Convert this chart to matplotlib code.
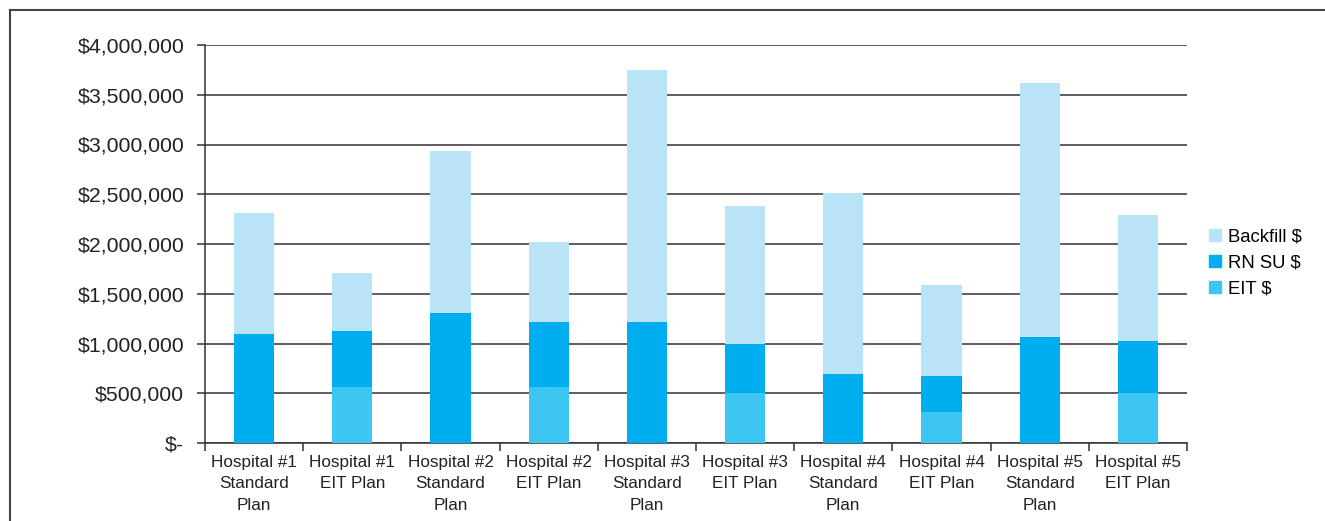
import numpy as np
from matplotlib import pyplot as plt
from matplotlib.lines import Line2D

# categories and stacked values (dollars)
categories = ['Hospital #1\nStandard\nPlan', 'Hospital #1\nEIT Plan',
              'Hospital #2\nStandard\nPlan', 'Hospital #2\nEIT Plan',
              'Hospital #3\nStandard\nPlan', 'Hospital #3\nEIT Plan',
              'Hospital #4\nStandard\nPlan', 'Hospital #4\nEIT Plan',
              'Hospital #5\nStandard\nPlan', 'Hospital #5\nEIT Plan']
eit = [0, 565000, 0, 565000, 0, 500000, 0, 310000, 0, 500000]
rn_su = [1095000, 560000, 1307000, 650000, 1216000, 495000, 693000, 363000, 1065000, 525000]
backfill = [1215000, 585000, 1628000, 805000, 2534000, 1385000, 1817000, 917000, 2555000, 1265000]

yticks = [0, 500000, 1000000, 1500000, 2000000, 2500000, 3000000, 3500000, 4000000]

c_backfill = '#b9e4f8'
c_rn = '#00adef'
c_eit = '#3ec6f3'

plt.rcParams['font.family'] = ['Liberation Sans', 'DejaVu Sans']

fig = plt.figure(figsize=(13.25, 5.21), dpi=100)
ax = fig.add_axes([205/1325, 1 - 443/521, (1187 - 205)/1325, (443 - 45)/521])

x = np.arange(len(categories))
eit = np.array(eit)
rn_su = np.array(rn_su)
backfill = np.array(backfill)
w = 0.41
ax.bar(x, eit, w, color=c_eit, zorder=3)
ax.bar(x, rn_su, w, bottom=eit, color=c_rn, zorder=3)
ax.bar(x, backfill, w, bottom=eit + rn_su, color=c_backfill, zorder=3)

ax.set_xlim(-0.5, len(categories) - 0.5)
ax.set_ylim(0, 4000000)
ax.set_yticks(yticks)
ax.set_yticklabels(['$-' if v == 0 else '${:,}'.format(v) for v in yticks], fontsize=15.3, color='#222222')
ax.yaxis.grid(True, color='#333333', linewidth=1.1, zorder=0)
ax.tick_params(axis='y', length=6, width=1.1, color='#333333', pad=9)

ax.set_xticks(x)
ax.set_xticklabels(categories, fontsize=12.3, color='#222222', linespacing=1.5)
ax.tick_params(axis='x', which='major', length=0, pad=9)
ax.set_xticks(np.arange(-0.5, len(categories), 1), minor=True)
ax.tick_params(axis='x', which='minor', length=6, width=1.1, color='#333333')

for s in ['top', 'right']:
    ax.spines[s].set_visible(False)
for s in ['left', 'bottom']:
    ax.spines[s].set_color('#333333')
    ax.spines[s].set_linewidth(1.1)

handles = [plt.Rectangle((0, 0), 1, 1, color=c) for c in [c_backfill, c_rn, c_eit]]
fig.legend(handles, ['Backfill $', 'RN SU $', 'EIT $'], loc='center left',
           bbox_to_anchor=(1192/1325, 1 - 263/521), frameon=False, fontsize=13.3,
           handlelength=0.65, handleheight=0.65, handletextpad=0.4, labelspacing=0.5)

# outer border (top and left edges visible)
fig.add_artist(Line2D([10/1325, 1], [1 - 10/521, 1 - 10/521], color='#444444', lw=1.5))
fig.add_artist(Line2D([10/1325, 10/1325], [0, 1 - 10/521], color='#444444', lw=1.5))

fig.savefig('out.png', dpi=100)
